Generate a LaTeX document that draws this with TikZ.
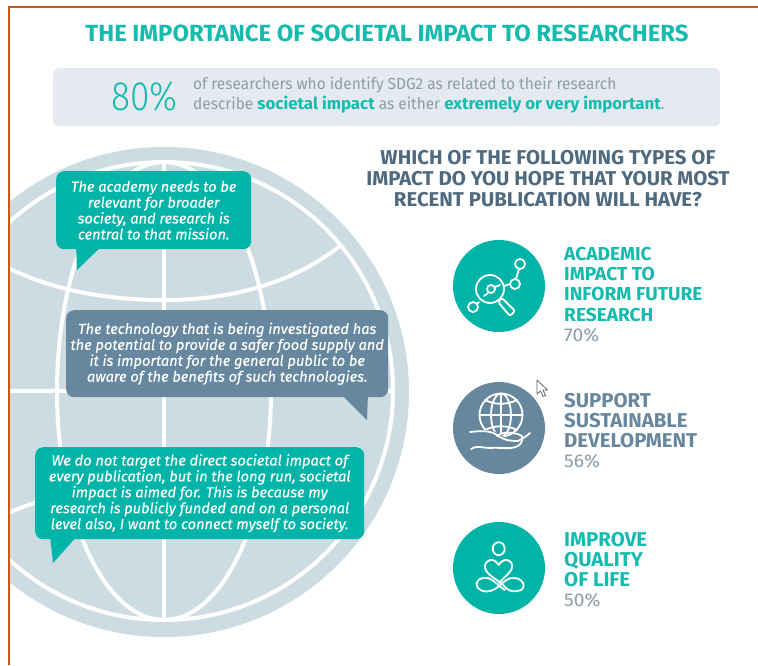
\documentclass[tikz,border=0pt]{standalone}
\usepackage{fontspec}
\setmainfont{Fira Sans}
\newfontfamily\dinb[FakeStretch=1.02]{Fira Sans Bold}
\newfontfamily\dinl[FakeStretch=0.86]{Fira Sans Light}
\newfontfamily\dinr[FakeStretch=0.965]{Fira Sans}
\newfontfamily\dinp[FakeStretch=1.04]{Fira Sans}
\newfontfamily\quotef[FakeBold=0.25]{Fira Sans Italic}
\definecolor{teal}{HTML}{00B5A8}
\definecolor{tealb}{HTML}{15BBAE}
\definecolor{slate}{HTML}{67879F}
\definecolor{slated}{HTML}{4F6A7F}
\definecolor{globe}{HTML}{CDDBE2}
\definecolor{band}{HTML}{E4EAF0}
\definecolor{greyt}{HTML}{8C9DAA}
\definecolor{frame}{HTML}{C9580E}
\tikzset{
 bubble/.style={rounded corners=8pt,inner sep=0pt,text=white,align=center,anchor=north west,
   font=\fontsize{14.6}{15.9}\selectfont\quotef},
 gridline/.style={draw=white,line width=4pt},
 disc/.style={circle,inner sep=0pt,minimum size=92pt},
 icon/.style={draw=white,line width=1.8pt,line cap=round,line join=round},
 label/.style={anchor=north west,inner sep=0pt,align=left,font=\fontsize{18.75}{20.2}\selectfont\dinb},
 labelwide/.style={anchor=north west,inner sep=0pt,align=left,font=\fontsize{20}{20.2}\selectfont\dinb},
 pct/.style={anchor=base west,inner sep=0pt,text=greyt,font=\fontsize{18.5}{20}\selectfont\dinp},
}
\newcommand{\hilite}[1]{{\fontsize{16.55}{20}\selectfont\dinb\color{tealb}#1}}
\begin{document}
\begin{tikzpicture}[x=1pt,y=-1pt]
\useasboundingbox (0,0) rectangle (758,665);
\fill[white] (0,0) rectangle (758,665);
% globe
\begin{scope}
\clip (10,0) rectangle (758,665);
\fill[globe] (164,392) circle (245);
\begin{scope}
\clip (164,391) circle (229);
\draw[gridline] (164,391) ellipse (107 and 229);
\draw[gridline] (164,162) -- (164,620);
\draw[gridline] (-70,391) -- (400,391);
\draw[gridline] (-10,258) .. controls (40,288) and (100,300) .. (164,300) .. controls (228,300) and (290,285) .. (340,246);
\draw[gridline] (-10,522) .. controls (40,495) and (100,484) .. (164,484) .. controls (228,484) and (290,497) .. (340,536);
\end{scope}
\draw[gridline] (164,391) circle (229);
\end{scope}
% frame
\fill[frame] (8,6) rectangle (758,8.4);
\fill[frame] (8,6) rectangle (10.4,665);
% header
\node[anchor=center,inner sep=0pt,text=tealb,font=\fontsize{23.4}{24}\selectfont\dinb] (title) at (387,33) {THE IMPORTANCE OF SOCIETAL IMPACT TO RESEARCHERS};
\node[anchor=north west,fill=band,rounded corners=6pt,minimum width=667pt,minimum height=58pt,inner sep=0pt] (bandbox) at (53,68) {};
\node[anchor=center,inner sep=0pt,text=tealb,font=\fontsize{41}{40}\selectfont\dinl] (pctbig) at (144.5,97) {80\%};
\node[anchor=north west,inner sep=0pt,align=left,text=greyt,font=\fontsize{16}{20}\selectfont\dinr] (bandtext) at (193,77) {of researchers who identify SDG2 as related to their research\\describe \hilite{societal impact} as either \hilite{extremely or very important}.};
% bubbles
\fill[teal,line join=round] (76,245) -- (77,270) -- (103,245) -- cycle;
\node[bubble,fill=teal,minimum width=195pt,minimum height=78pt] (q1) at (56,171) {The academy needs to be\\relevant for broader\\society, and research is\\central to that mission.};
\fill[slate] (340,393) -- (367,420) -- (368,393) -- cycle;
\node[bubble,fill=slate,minimum width=322pt,minimum height=87pt] (q2) at (66,310) {The technology that is being investigated has\\the potential to provide a safer food supply and\\it is important for the general public to be\\aware of the benefits of such technologies.};
\fill[teal] (50,535) -- (53,563) -- (78,535) -- cycle;
\node[bubble,fill=teal,minimum width=329pt,minimum height=92pt] (q3) at (35,447) {We do not target the direct societal impact of\\every publication, but in the long run, societal\\impact is aimed for. This is because my\\research is publicly funded and on a personal\\level also, I want to connect myself to society.};
% heading
\node[anchor=north,inner sep=0pt,align=center,text=slated,font=\fontsize{20}{21}\selectfont\dinb] (heading) at (548,150) {WHICH OF THE FOLLOWING TYPES OF\\IMPACT DO YOU HOPE THAT YOUR MOST\\RECENT PUBLICATION WILL HAVE?};
% discs
\node[disc,fill=teal] (d1) at (499,286) {};
\node[disc,fill=slate] (d2) at (499,428) {};
\node[disc,fill=teal] (d3) at (499,568) {};
% icon 1
\begin{scope}[icon]
\draw (490,289) circle (14);
\draw (491,289) circle (4);
\draw (484,296) -- (488,293);
\draw (495,287) -- (500,285);
\draw[rounded corners=2pt] (498,302) -- (502,298) -- (515,311) -- (510,316) -- cycle;
\draw (473,307) circle (5);
\draw (515,284) circle (5);
\draw (520,264) circle (5);
\draw (477,304) -- (479,302);
\draw (504,286) -- (510,284);
\draw (516,279) -- (519,269);
\end{scope}
% icon 2
\begin{scope}[icon]
\draw (501,415) circle (21.5);
\draw (501,415) ellipse (10 and 21.5);
\draw (501,393.5) -- (501,436.5);
\draw (479.5,415) -- (522.5,415);
\draw (485,400) .. controls (495,405) and (507,405) .. (517,400);
\draw (485,430) .. controls (495,425) and (507,425) .. (517,430);
\fill[slate] (470,432) .. controls (485,428) and (497,430) .. (505,438) -- (530,437) -- (524,455) -- (475,457) -- cycle;
\draw (470,432) .. controls (480,431) and (490,430) .. (497,435) .. controls (505,441) and (512,441) .. (518,441);
\draw (497,436) .. controls (503,431) and (515,432) .. (522,436) .. controls (523,441) and (521,444) .. (518,446) .. controls (510,450) and (500,447) .. (490,448) .. controls (483,448) and (476,445) .. (471,449);
\draw (518,441) .. controls (522,439) and (527,436) .. (530,433);
\end{scope}
% icon 3
\begin{scope}[icon]
\draw (498.7,548.7) ellipse (6 and 6.5);
\draw (498.7,565) .. controls (494,557) and (485,559) .. (485,567) .. controls (485,575) and (500,580) .. (506,588) .. controls (510,592) and (516,592) .. (521,590) .. controls (527,586) and (522,577) .. (512,578) .. controls (504,579) and (501,586) .. (495,589) .. controls (490,592) and (482,593) .. (478,588) .. controls (473,581) and (482,576) .. (488,578) .. controls (494,580) and (497,585) .. (505,590);
\draw (498.7,565) .. controls (503,557) and (513,559) .. (512,567) .. controls (512,572) and (503,578) .. (499,583);
\end{scope}
% labels
\node[label,text=tealb] (l1) at (564,247) {ACADEMIC\\IMPACT TO\\INFORM FUTURE\\RESEARCH};
\node[pct] (p1) at (564,341) {70\%};
\node[labelwide,text=slate] (l2) at (564,393) {SUPPORT\\SUSTAINABLE\\DEVELOPMENT};
\node[pct] (p2) at (564,467) {56\%};
\node[labelwide,text=tealb] (l3) at (564,532) {IMPROVE\\QUALITY\\OF LIFE};
\node[pct] (p3) at (564,606) {50\%};
% cursor
\draw[draw=black!60,fill=white,line width=.8pt,line join=round] (537,380) -- (537,394) -- (540.5,391) -- (543,396.5) -- (545.5,395.5) -- (543,390) -- (547.5,390) -- cycle;
\end{tikzpicture}
\end{document}
